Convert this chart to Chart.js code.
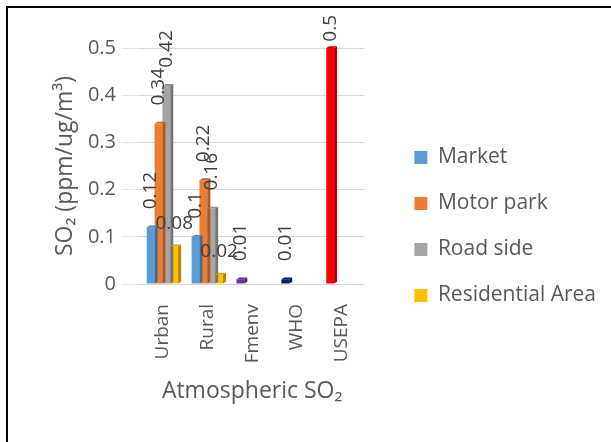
<!DOCTYPE html>
<html>
<head>
<meta charset="utf-8">
<script src="https://cdn.jsdelivr.net/npm/chart.js@4/dist/chart.umd.min.js"></script>
<style>
  html, body { margin: 0; padding: 0; background: #fff; }
  #wrap { position: relative; width: 611px; height: 442px; overflow: hidden; }
  #frame { position: absolute; left: 6px; top: 6px; width: 700px; height: 500px; border: 2px solid #000; pointer-events: none; }
</style>
</head>
<body>
<div id="wrap">
  <canvas id="chart" width="611" height="442"></canvas>
  <div id="frame"></div>
</div>
<script>
const categories = ["Urban", "Rural", "Fmenv", "WHO", "USEPA"];
const market = [0.12, 0.10, 0.01, 0.01, 0.5];
const motorPark = [0.34, 0.22, null, null, null];
const roadSide = [0.42, 0.16, null, null, null];
const residential = [0.08, 0.02, null, null, null];
const marketColors = ["#5B9BD5", "#5B9BD5", "#7030A0", "#002060", "#FF0000"];
const yTicks = [0, 0.1, 0.2, 0.3, 0.4, 0.5];

const textGrey = "#595959";
const FONT = "'Open Sans', 'Liberation Sans', sans-serif";

function shade(hex, f) {
  const n = parseInt(hex.slice(1), 16);
  const r = Math.round(((n >> 16) & 255) * f);
  const g = Math.round(((n >> 8) & 255) * f);
  const b = Math.round((n & 255) * f);
  return `rgb(${r},${g},${b})`;
}

// fake Excel 3D look: a thin darker side and top on every bar
const depthPlugin = {
  id: "depth",
  afterDatasetsDraw(chart) {
    const ctx = chart.ctx;
    const d = 3;
    chart.data.datasets.forEach((ds, di) => {
      chart.getDatasetMeta(di).data.forEach((bar, i) => {
        if (ds.data[i] == null) return;
        const p = bar.getProps(["x", "y", "base", "width"], true);
        const right = p.x + p.width / 2;
        const left = p.x - p.width / 2;
        const col = Array.isArray(ds.backgroundColor) ? ds.backgroundColor[i] : ds.backgroundColor;
        ctx.save();
        ctx.fillStyle = shade(col, 0.7);
        ctx.beginPath();
        ctx.moveTo(right, p.y);
        ctx.lineTo(right + d, p.y - d * 0.6);
        ctx.lineTo(right + d, p.base - d * 0.6);
        ctx.lineTo(right, p.base);
        ctx.closePath();
        ctx.fill();
        ctx.fillStyle = shade(col, 0.85);
        ctx.beginPath();
        ctx.moveTo(left, p.y);
        ctx.lineTo(left + d, p.y - d * 0.6);
        ctx.lineTo(right + d, p.y - d * 0.6);
        ctx.lineTo(right, p.y);
        ctx.closePath();
        ctx.fill();
        ctx.restore();
      });
    });
  }
};

const labelPlugin = {
  id: "valueLabels",
  afterDraw(chart) {
    const ctx = chart.ctx;
    ctx.save();
    ctx.font = `19px ${FONT}`;
    ctx.fillStyle = "#404040";
    chart.data.datasets.forEach((ds, di) => {
      chart.getDatasetMeta(di).data.forEach((bar, i) => {
        const v = ds.data[i];
        if (v == null) return;
        const txt = String(v);
        const w = ctx.measureText(txt).width;
        if (ds.label === "Residential Area") {
          ctx.textAlign = "center";
          ctx.textBaseline = "middle";
          ctx.fillText(txt, bar.x, bar.y - 23);
        } else {
          const start = Math.max(bar.y - 18, 15 + w);
          ctx.save();
          ctx.translate(bar.x, start);
          ctx.rotate(-Math.PI / 2);
          ctx.textAlign = "left";
          ctx.textBaseline = "middle";
          ctx.fillText(txt, 0, 0);
          ctx.restore();
        }
      });
    });
    ctx.restore();
  }
};

new Chart(document.getElementById("chart"), {
  type: "bar",
  data: {
    labels: categories,
    datasets: [
      { label: "Market", data: market, backgroundColor: marketColors },
      { label: "Motor park", data: motorPark, backgroundColor: "#ED7D31" },
      { label: "Road side", data: roadSide, backgroundColor: "#A5A5A5" },
      { label: "Residential Area", data: residential, backgroundColor: "#FFC000" },
    ],
  },
  options: {
    responsive: false,
    animation: false,
    categoryPercentage: 0.7,
    barPercentage: 1,
    layout: { padding: { left: 48, top: 48, right: 5, bottom: 37 } },
    plugins: {
      tooltip: { enabled: false },
      legend: {
        position: "right",
        maxWidth: 280,
        labels: {
          boxWidth: 13,
          boxHeight: 13,
          padding: 25,
          color: textGrey,
          font: { family: FONT, size: 21 },
          generateLabels(chart) {
            return chart.data.datasets.map((ds, i) => ({
              text: ds.label,
              fillStyle: Array.isArray(ds.backgroundColor) ? ds.backgroundColor[0] : ds.backgroundColor,
              strokeStyle: "rgba(0,0,0,0)",
              lineWidth: 0,
              fontColor: textGrey,
              datasetIndex: i,
            }));
          },
        },
      },
    },
    scales: {
      x: {
        grid: { display: false },
        border: { display: false },
        ticks: {
          color: textGrey,
          font: { family: FONT, size: 19 },
          minRotation: 90,
          maxRotation: 90,
          padding: 12,
        },
        title: {
          display: true,
          text: "Atmospheric SO₂",
          color: textGrey,
          font: { family: FONT, size: 23 },
          padding: { top: 8, bottom: 0 },
        },
        afterFit(s) { s.height = 121; },
      },
      y: {
        min: 0,
        max: 0.5,
        afterBuildTicks(s) { s.ticks = yTicks.map((v) => ({ value: v })); },
        grid: { color: "#D9D9D9", tickLength: 18, tickColor: "#E6E6E6" },
        border: { display: false },
        ticks: {
          color: textGrey,
          font: { family: FONT, size: 20 },
          padding: 6,
          callback: (v) => String(+v.toFixed(1)),
        },
        title: {
          display: true,
          text: "SO₂ (ppm/ug/m³)",
          color: textGrey,
          font: { family: FONT, size: 23 },
          padding: 4,
        },
        afterFit(s) { s.width = 92; },
      },
      gap: {
        position: "right",
        type: "linear",
        display: true,
        grid: { display: false },
        border: { display: false },
        ticks: { display: false },
        afterFit(s) { s.width = 25; },
      },
    },
  },
  plugins: [depthPlugin, labelPlugin],
});
</script>
</body>
</html>
